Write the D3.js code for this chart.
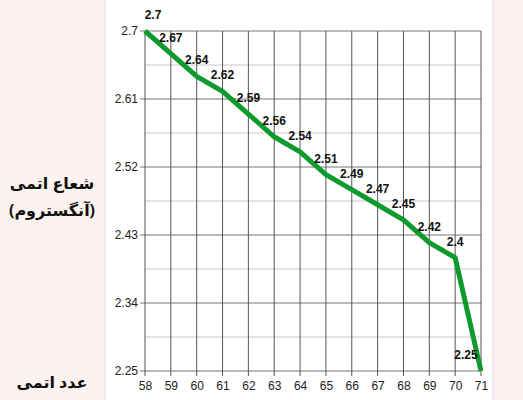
<!DOCTYPE html>
<html><head><meta charset="utf-8">
<script src="https://cdn.jsdelivr.net/npm/d3@7"></script>
<style>
body{margin:0;background:#fff;}
.tick text{font-family:"Liberation Sans",Arial,sans-serif;font-size:12px;fill:#222;}
</style></head>
<body><div id="chart"></div>
<script>
var atomicNumbers = [58,59,60,61,62,63,64,65,66,67,68,69,70,71];
var radii = [2.7,2.67,2.64,2.62,2.59,2.56,2.54,2.51,2.49,2.47,2.45,2.42,2.4,2.25];
var yTicks = [2.25,2.34,2.43,2.52,2.61,2.7];
var yTitle = ["شعاع اتمی", "(آنگستروم)"];
var xTitle = "عدد اتمی";

var W = 523, H = 400;
var svg = d3.select("#chart").append("svg").attr("width", W).attr("height", H);

// side panels
svg.append("rect").attr("x",0).attr("y",0).attr("width",105).attr("height",H).attr("fill","#fcf3f0");
svg.append("line").attr("x1",105).attr("x2",105).attr("y1",0).attr("y2",H).attr("stroke","#ddd");
svg.append("rect").attr("x",493).attr("y",0).attr("width",30).attr("height",H).attr("fill","#fcf3f0");
svg.append("line").attr("x1",493).attr("x2",493).attr("y1",0).attr("y2",H).attr("stroke","#ddd");

var x = d3.scaleLinear().domain([58,71]).range([145,481]);
var y = d3.scaleLinear().domain([2.25,2.7]).range([371,31]);

// minor horizontal grid
var minor = d3.range(0,5).map(function(i){ return (yTicks[i]+yTicks[i+1])/2; });
svg.selectAll(".minor").data(minor).enter().append("line")
  .attr("x1",145).attr("x2",481).attr("y1",d=>y(d)).attr("y2",d=>y(d))
  .attr("stroke","#c8c8c8").attr("stroke-width",1);
// major horizontal grid
svg.selectAll(".major").data(yTicks).enter().append("line")
  .attr("x1",140).attr("x2",481).attr("y1",d=>y(d)).attr("y2",d=>y(d))
  .attr("stroke","#777").attr("stroke-width",1);
// vertical grid
svg.selectAll(".vg").data(atomicNumbers).enter().append("line")
  .attr("x1",d=>x(d)).attr("x2",d=>x(d)).attr("y1",31).attr("y2",376)
  .attr("stroke","#555").attr("stroke-width",1);

var yAxis = svg.append("g").attr("transform","translate(145,0)")
  .call(d3.axisLeft(y).tickValues(yTicks).tickFormat(d=>String(d)).tickSize(0).tickPadding(7));
yAxis.select(".domain").remove();
var xAxis = svg.append("g").attr("transform","translate(0,371)")
  .call(d3.axisBottom(x).tickValues(atomicNumbers).tickSize(0).tickPadding(10));
xAxis.select(".domain").remove();

var data = atomicNumbers.map((n,i)=>({n:n, r:radii[i]}));
svg.append("path").datum(data)
  .attr("fill","none").attr("stroke","#0f9a2e").attr("stroke-width",5)
  .attr("stroke-linejoin","round")
  .attr("d", d3.line().x(d=>x(d.n)).y(d=>y(d.r)));

svg.selectAll(".lbl").data(data).enter().append("text")
  .attr("x",(d,i)=> x(d.n) + (i==0 ? 8 : i==data.length-1 ? -15 : 0))
  .attr("y",d=>y(d.r)-12)
  .attr("text-anchor","middle")
  .attr("font-family","Liberation Sans,Arial,sans-serif")
  .attr("font-weight","bold").attr("font-size",12).attr("fill","#111")
  .text(d=>d.r);

svg.selectAll(".yt").data(yTitle).enter().append("text")
  .attr("x",52).attr("y",(d,i)=>189+i*27)
  .attr("text-anchor","middle").attr("direction","rtl")
  .attr("font-family","Noto Sans,DejaVu Sans,sans-serif")
  .attr("font-weight","bold").attr("font-size",16).attr("fill","#111")
  .text(d=>d);
svg.append("text").attr("x",52).attr("y",388)
  .attr("text-anchor","middle").attr("direction","rtl")
  .attr("font-family","Noto Sans,DejaVu Sans,sans-serif")
  .attr("font-weight","bold").attr("font-size",16).attr("fill","#111")
  .text(xTitle);
</script></body></html>
